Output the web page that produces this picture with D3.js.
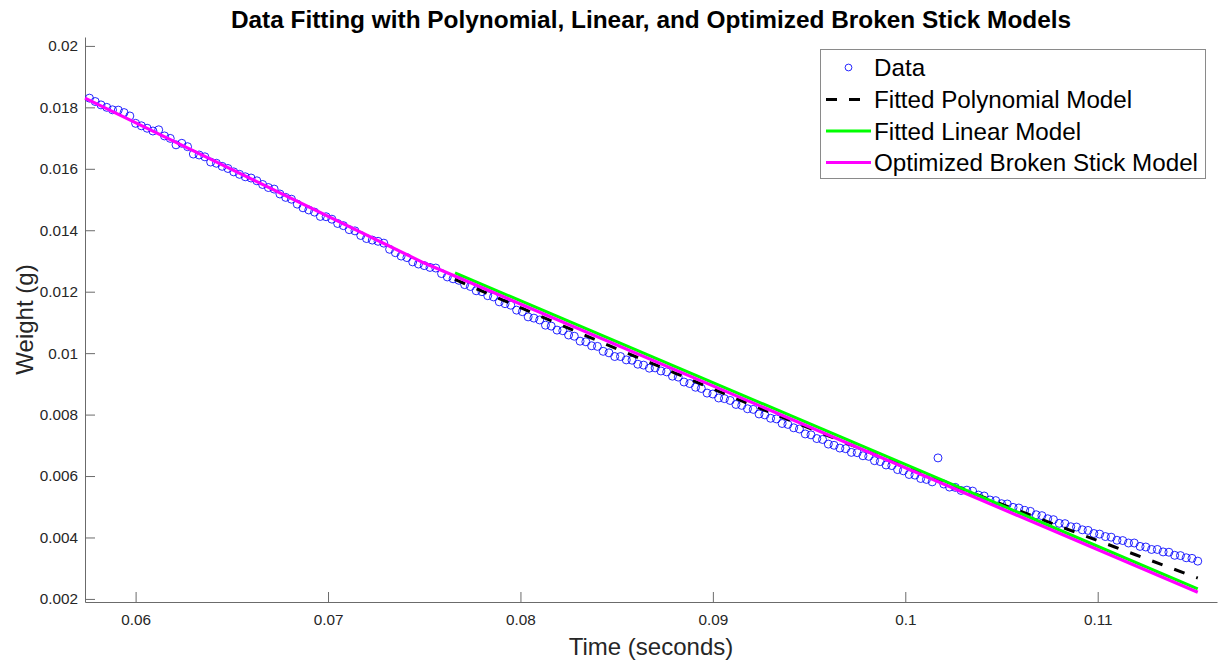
<!DOCTYPE html>
<html lang="en">
<head>
<meta charset="utf-8">
<title>Data Fitting with Polynomial, Linear, and Optimized Broken Stick Models</title>
<script src="https://d3js.org/d3.v7.min.js"></script>
<style>
    body { margin: 0; background: #fff; }
    svg { display: block; font-family: "Liberation Sans", Arial, Helvetica, sans-serif; }
</style>
</head>
<body>
<svg width="1228" height="661"></svg>
<script>
    // measured data (time in s, weight in g)
    var times = [
        0.0576,0.0579,0.0582,0.0585,0.0588,0.0591,0.0594,0.0597,0.0600,0.0603,
        0.0606,0.0609,0.0612,0.0615,0.0618,0.0621,0.0624,0.0627,0.0630,0.0633,
        0.0636,0.0639,0.0642,0.0645,0.0648,0.0651,0.0654,0.0657,0.0660,0.0663,
        0.0666,0.0669,0.0672,0.0675,0.0678,0.0681,0.0684,0.0687,0.0690,0.0693,
        0.0696,0.0699,0.0702,0.0705,0.0708,0.0711,0.0714,0.0717,0.0720,0.0723,
        0.0726,0.0729,0.0732,0.0735,0.0738,0.0741,0.0744,0.0747,0.0750,0.0753,
        0.0756,0.0759,0.0762,0.0765,0.0768,0.0771,0.0774,0.0777,0.0780,0.0783,
        0.0786,0.0789,0.0792,0.0795,0.0798,0.0801,0.0804,0.0807,0.0810,0.0813,
        0.0816,0.0819,0.0822,0.0825,0.0828,0.0831,0.0834,0.0837,0.0840,0.0843,
        0.0846,0.0849,0.0852,0.0855,0.0858,0.0861,0.0864,0.0867,0.0870,0.0873,
        0.0876,0.0879,0.0882,0.0885,0.0888,0.0891,0.0894,0.0897,0.0900,0.0903,
        0.0906,0.0909,0.0912,0.0915,0.0918,0.0921,0.0924,0.0927,0.0930,0.0933,
        0.0936,0.0939,0.0942,0.0945,0.0948,0.0951,0.0954,0.0957,0.0960,0.0963,
        0.0966,0.0969,0.0972,0.0975,0.0978,0.0981,0.0984,0.0987,0.0990,0.0993,
        0.0996,0.0999,0.1002,0.1005,0.1008,0.1011,0.1014,0.1017,0.1020,0.1023,
        0.1026,0.1029,0.1032,0.1035,0.1038,0.1041,0.1044,0.1047,0.1050,0.1053,
        0.1056,0.1059,0.1062,0.1065,0.1068,0.1071,0.1074,0.1077,0.1080,0.1083,
        0.1086,0.1089,0.1092,0.1095,0.1098,0.1101,0.1104,0.1107,0.1110,0.1113,
        0.1116,0.1119,0.1122,0.1125,0.1128,0.1131,0.1134,0.1137,0.1140,0.1143,
        0.1146,0.1149,0.1152
    ];
    var weights = [
        0.01830,0.01819,0.01808,0.01800,0.01792,0.01791,0.01783,0.01772,0.01748,0.01740,
        0.01732,0.01723,0.01727,0.01707,0.01699,0.01678,0.01683,0.01672,0.01648,0.01645,
        0.01639,0.01622,0.01618,0.01608,0.01601,0.01590,0.01582,0.01574,0.01570,0.01561,
        0.01549,0.01539,0.01534,0.01518,0.01507,0.01501,0.01485,0.01473,0.01466,0.01459,
        0.01445,0.01444,0.01436,0.01422,0.01415,0.01402,0.01398,0.01383,0.01373,0.01368,
        0.01364,0.01358,0.01338,0.01327,0.01316,0.01311,0.01297,0.01290,0.01285,0.01279,
        0.01277,0.01259,0.01248,0.01242,0.01237,0.01223,0.01217,0.01203,0.01200,0.01187,
        0.01183,0.01167,0.01161,0.01156,0.01140,0.01135,0.01118,0.01114,0.01108,0.01091,
        0.01088,0.01075,0.01073,0.01059,0.01055,0.01039,0.01037,0.01024,0.01022,0.01006,
        0.01001,0.00989,0.00989,0.00978,0.00977,0.00964,0.00961,0.00951,0.00952,0.00942,
        0.00939,0.00925,0.00922,0.00906,0.00901,0.00889,0.00885,0.00870,0.00867,0.00854,
        0.00852,0.00846,0.00833,0.00830,0.00819,0.00817,0.00802,0.00799,0.00788,0.00786,
        0.00771,0.00768,0.00757,0.00753,0.00737,0.00734,0.00722,0.00719,0.00704,0.00700,
        0.00691,0.00689,0.00677,0.00676,0.00666,0.00664,0.00650,0.00647,0.00636,0.00634,
        0.00621,0.00617,0.00605,0.00603,0.00592,0.00589,0.00581,0.00659,0.00574,0.00564,
        0.00563,0.00553,0.00554,0.00551,0.00538,0.00535,0.00522,0.00520,0.00510,0.00509,
        0.00498,0.00496,0.00488,0.00485,0.00474,0.00471,0.00461,0.00458,0.00446,0.00445,
        0.00435,0.00434,0.00425,0.00423,0.00413,0.00411,0.00403,0.00401,0.00391,0.00390,
        0.00382,0.00382,0.00371,0.00369,0.00361,0.00361,0.00353,0.00352,0.00342,0.00341,
        0.00334,0.00332,0.00323
    ];

    // fitted models
    var polyT = [0.0766, 0.0800, 0.0840, 0.0880, 0.0920, 0.0960, 0.1000, 0.1040, 0.1080, 0.1120, 0.1152];
    var polyV = [0.01240, 0.01148, 0.01041, 0.00936, 0.00832, 0.00731, 0.00631, 0.00533, 0.00437, 0.00343, 0.00268];
    var linT = [0.0766, 0.1152];
    var linV = [0.01261, 0.00233];
    var stickT = [0.05737, 0.07497, 0.1152];
    var stickV = [0.01830, 0.01294, 0.00222];

    var xTicks = [0.06, 0.07, 0.08, 0.09, 0.1, 0.11];
    var xTickLabels = ["0.06", "0.07", "0.08", "0.09", "0.1", "0.11"];
    var yTicks = [0.002, 0.004, 0.006, 0.008, 0.01, 0.012, 0.014, 0.016, 0.018, 0.02];
    var yTickLabels = ["0.002", "0.004", "0.006", "0.008", "0.01", "0.012", "0.014", "0.016", "0.018", "0.02"];

    var seriesNames = ["Data", "Fitted Polynomial Model", "Fitted Linear Model", "Optimized Broken Stick Model"];

    var width = 1228, height = 661;
    var marge = {top: 37, right: 11, bottom: 59, left: 85};
    var axisColor = "#6b6b6b";
    var textColor = "#262626";

    var svg = d3.select("svg");

    var xScale = d3.scaleLinear()
        .domain([0.05737, 0.1162])
        .range([marge.left, width - marge.right]);
    var yScale = d3.scaleLinear()
        .domain([0.0019, 0.02029])
        .range([height - marge.bottom, marge.top]);

    // axes, ticks point inward like matlab
    var xAxis = d3.axisBottom(xScale)
        .tickValues(xTicks)
        .tickFormat(function(d, i){ return xTickLabels[i]; })
        .tickSizeInner(-10)
        .tickSizeOuter(0)
        .tickPadding(12);
    var yAxis = d3.axisLeft(yScale)
        .tickValues(yTicks)
        .tickFormat(function(d, i){ return yTickLabels[i]; })
        .tickSizeInner(-10)
        .tickSizeOuter(0)
        .tickPadding(7);

    var gx = svg.append("g")
        .attr("transform", "translate(0," + (height - marge.bottom) + ")")
        .call(xAxis);
    var gy = svg.append("g")
        .attr("transform", "translate(" + marge.left + ",0)")
        .call(yAxis);

    [gx, gy].forEach(function(g){
        g.attr("font-family", null).attr("font-size", 15.3);
        g.select(".domain").attr("stroke", axisColor);
        g.selectAll(".tick line").attr("stroke", axisColor);
        g.selectAll(".tick text").attr("fill", textColor);
    });

    // data points
    svg.append("g")
        .selectAll("circle")
        .data(d3.zip(times, weights))
        .enter()
        .append("circle")
        .attr("cx", function(d){ return xScale(d[0]); })
        .attr("cy", function(d){ return yScale(d[1]); })
        .attr("r", 4)
        .attr("fill", "none")
        .attr("stroke", "#0000ff")
        .attr("stroke-width", 0.85);

    var line = d3.line()
        .x(function(d){ return xScale(d[0]); })
        .y(function(d){ return yScale(d[1]); });

    svg.append("path")
        .datum(d3.zip(polyT, polyV))
        .attr("d", line.curve(d3.curveMonotoneX))
        .attr("fill", "none")
        .attr("stroke", "#000")
        .attr("stroke-width", 3)
        .attr("stroke-dasharray", "11,12.5");

    line.curve(d3.curveLinear);

    svg.append("path")
        .datum(d3.zip(linT, linV))
        .attr("d", line)
        .attr("fill", "none")
        .attr("stroke", "#00ff00")
        .attr("stroke-width", 3);

    svg.append("path")
        .datum(d3.zip(stickT, stickV))
        .attr("d", line)
        .attr("fill", "none")
        .attr("stroke", "#ff00ff")
        .attr("stroke-width", 3.2);

    // title and labels
    svg.append("text")
        .attr("x", (marge.left + width - marge.right) / 2)
        .attr("y", 28)
        .attr("text-anchor", "middle")
        .attr("font-size", 24.4)
        .attr("font-weight", "bold")
        .attr("fill", "#000")
        .text("Data Fitting with Polynomial, Linear, and Optimized Broken Stick Models");

    svg.append("text")
        .attr("x", (marge.left + width - marge.right) / 2)
        .attr("y", 655)
        .attr("text-anchor", "middle")
        .attr("font-size", 24)
        .attr("fill", textColor)
        .text("Time (seconds)");

    svg.append("text")
        .attr("transform", "translate(33," + ((marge.top + height - marge.bottom) / 2) + ") rotate(-90)")
        .attr("text-anchor", "middle")
        .attr("font-size", 24)
        .attr("fill", textColor)
        .text("Weight (g)");

    // legend
    var legend = svg.append("g");
    legend.append("rect")
        .attr("x", 820.5)
        .attr("y", 49.5)
        .attr("width", 385)
        .attr("height", 129)
        .attr("fill", "#fff")
        .attr("stroke", "#8a8a8a")
        .attr("stroke-width", 1);

    var rowBase = [76, 108, 139.5, 171];
    var rowStyle = [
        {stroke: "#0000ff", dash: null, marker: true},
        {stroke: "#000", dash: "11,12", marker: false},
        {stroke: "#00ff00", dash: null, marker: false},
        {stroke: "#ff00ff", dash: null, marker: false}
    ];

    seriesNames.forEach(function(name, i){
        var cy = rowBase[i] - 8.5;
        if (rowStyle[i].marker) {
            legend.append("circle")
                .attr("cx", 848.5)
                .attr("cy", cy)
                .attr("r", 3.4)
                .attr("fill", "none")
                .attr("stroke", rowStyle[i].stroke)
                .attr("stroke-width", 0.85);
        } else {
            legend.append("line")
                .attr("x1", 826)
                .attr("x2", 871)
                .attr("y1", cy)
                .attr("y2", cy)
                .attr("stroke", rowStyle[i].stroke)
                .attr("stroke-width", 3)
                .attr("stroke-dasharray", rowStyle[i].dash);
        }
        legend.append("text")
            .attr("x", 874)
            .attr("y", rowBase[i])
            .attr("font-size", 24.2)
            .attr("fill", "#000")
            .text(name);
    });
</script>
</body>
</html>
